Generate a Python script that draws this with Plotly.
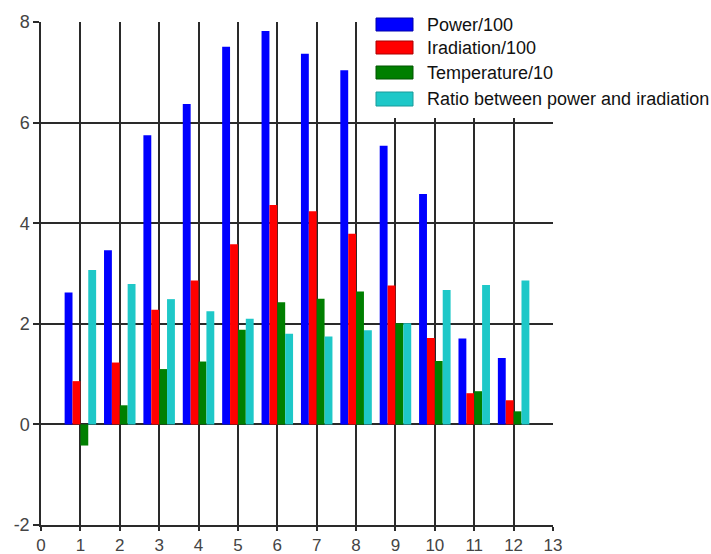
import plotly.graph_objects as go

months = list(range(1, 13))
power = [2.62, 3.46, 5.75, 6.37, 7.51, 7.82, 7.37, 7.04, 5.54, 4.58, 1.71, 1.32]
irradiation = [0.86, 1.23, 2.28, 2.86, 3.58, 4.36, 4.24, 3.79, 2.76, 1.72, 0.62, 0.48]
temperature = [-0.42, 0.38, 1.10, 1.25, 1.88, 2.43, 2.50, 2.64, 2.01, 1.26, 0.66, 0.26]
ratio = [3.07, 2.79, 2.49, 2.25, 2.10, 1.80, 1.75, 1.87, 2.01, 2.67, 2.77, 2.86]

names = ["Power/100", "Iradiation/100", "Temperature/10", "Ratio between power and iradiation"]
colors = ["#0000FF", "#FF0000", "#007F00", "#1EC8C8"]
borders = ["#0000AA", "#AA0000", "#005500", "#189A9A"]
series = [power, irradiation, temperature, ratio]

x_ticks = list(range(0, 14))
y_ticks = [-2, 0, 2, 4, 6, 8]

W, H = 711, 554
L, R, T, B = 41, 553, 22, 525  # plot area in window pixels

fig = go.Figure()
for name, vals, col in zip(names, series, colors):
    fig.add_trace(go.Bar(x=months, y=vals, name=name, marker=dict(color=col, line_width=0),
                         showlegend=False))

def px(xp):
    return (xp - L) / (R - L)

def py(yp):
    return (B - yp) / (B - T)

shapes = [dict(type="rect", xref="paper", yref="paper", x0=px(368), x1=px(715),
               y0=py(118), y1=py(0), fillcolor="white", line_width=0, layer="above")]
annotations = []
sw_y = [(18, 31), (41, 54), (66, 79), (92, 106)]
for (y0, y1), name, col, bc in zip(sw_y, names, colors, borders):
    shapes.append(dict(type="rect", xref="paper", yref="paper", x0=px(376), x1=px(413),
                       y0=py(y1), y1=py(y0), fillcolor=col, line=dict(color=bc, width=1),
                       layer="above"))
    annotations.append(dict(xref="paper", yref="paper", x=px(425), y=py((y0 + y1) / 2),
                            text=name, showarrow=False, xanchor="left", yanchor="middle",
                            font=dict(family="Liberation Sans", size=18, color="#111111")))

fig.update_layout(
    width=W, height=H,
    margin=dict(l=L, r=W - R, t=T, b=H - B, pad=0, autoexpand=False),
    paper_bgcolor="white", plot_bgcolor="white",
    barmode="group", bargap=0.2, bargroupgap=0,
    shapes=shapes, annotations=annotations,
    font=dict(family="Liberation Sans", size=18, color="#444444"),
)
fig.update_xaxes(range=[0, 13], tickvals=x_ticks, ticktext=[str(v) for v in x_ticks],
                 showgrid=True, gridcolor="#2a2a2a", gridwidth=1.5, automargin=False,
                 ticks="outside", ticklen=4, tickcolor="#2a2a2a", tickwidth=1.5,
                 showline=True, linecolor="#2a2a2a", linewidth=1.5, zeroline=False,
                 tickfont=dict(size=17))
fig.update_yaxes(range=[-2, 8], tickvals=y_ticks, ticktext=[str(v) for v in y_ticks],
                 showgrid=True, gridcolor="#2a2a2a", gridwidth=1.5, automargin=False,
                 ticks="outside", ticklen=6, tickcolor="#2a2a2a", tickwidth=1.5,
                 showline=True, linecolor="#2a2a2a", linewidth=1.5, zeroline=False,
                 tickfont=dict(size=18))

fig.write_html("out.html", config={"displayModeBar": False},
               post_script="document.body.style.margin='0';document.body.style.overflow='hidden';")
